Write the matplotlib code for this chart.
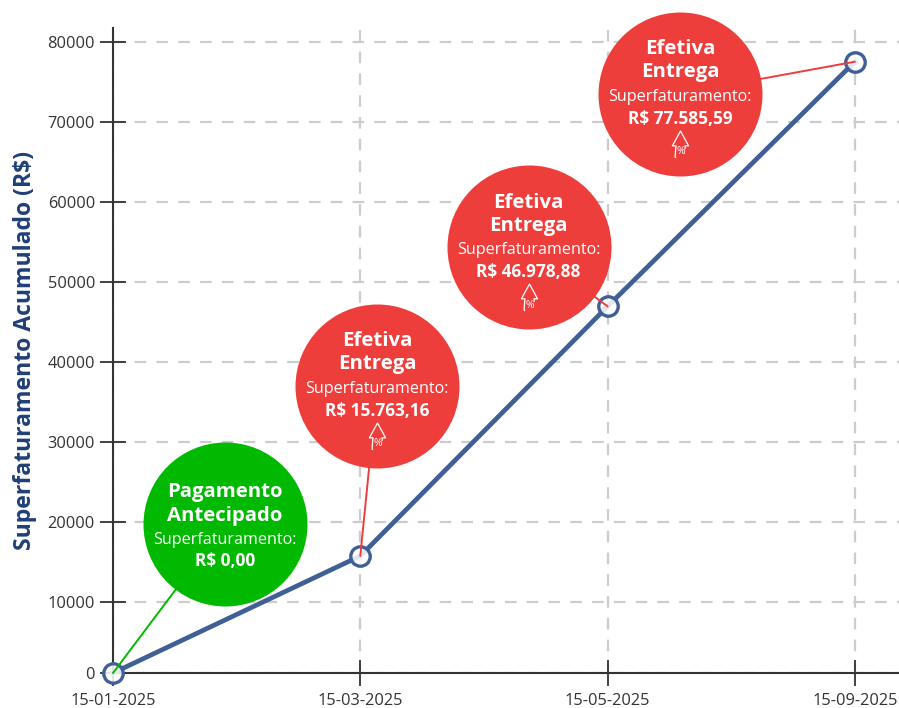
import numpy as np
import matplotlib
matplotlib.use('Agg')
import matplotlib.pyplot as plt
from matplotlib.path import Path
from matplotlib.transforms import ScaledTranslation

plt.rcParams['font.family'] = ['Open Sans', 'DejaVu Sans']

# data
dates = ['15-01-2025', '15-03-2025', '15-05-2025', '15-09-2025']
values = [0, 15763.16, 46978.88, 77585.59]
yticks = [0, 10000, 20000, 30000, 40000, 50000, 60000, 70000, 80000]
titles = ['Pagamento\nAntecipado', 'Efetiva\nEntrega', 'Efetiva\nEntrega', 'Efetiva\nEntrega']
amounts = ['R$ 0,00', 'R$ 15.763,16', 'R$ 46.978,88', 'R$ 77.585,59']

BLUE = '#3f5f95'
RED = '#ee3e3c'
GREEN = '#00b900'
DARK = '#333333'
GRID = '#cccccc'
colors = [GREEN, RED, RED, RED]
# bubble centres relative to their point, in pixels
offsets = [(112, 149), (17, 170), (-79, 59), (-175, -32)]

W, H = 899, 708
fig = plt.figure(figsize=(W / 100, H / 100), dpi=100)
ax = fig.add_axes([113 / W, 35 / H, 786 / W, 645 / H])

# the 0-10000 step is drawn shorter than the others in the original
def fwd(v):
    v = np.asarray(v, dtype=float)
    return np.where(v <= 10000, v * 71 / 10000, 71 + (v - 10000) * 80 / 10000)
def inv(p):
    p = np.asarray(p, dtype=float)
    return np.where(p <= 71, p * 10000 / 71, 10000 + (p - 71) * 10000 / 80)
ax.set_yscale('function', functions=(fwd, inv))

x = np.arange(len(dates))
ax.set_xlim(0, 786 / 247.3)
ax.set_ylim(0, 81800)
ax.set_xticks(x)
ax.set_xticklabels(dates)
ax.set_yticks(yticks)
ax.set_yticklabels([str(t) for t in yticks])
ax.minorticks_off()

ax.grid(True, color=GRID, lw=1.6, dashes=(5.2, 4.6), zorder=0)
ax.set_axisbelow(True)
for s in ['top', 'right']:
    ax.spines[s].set_visible(False)
for s in ['left', 'bottom']:
    ax.spines[s].set_color(DARK)
    ax.spines[s].set_linewidth(1.5)
ax.tick_params(axis='both', direction='inout', length=19, width=1.3, color=DARK,
               labelcolor='#333333', labelsize=11.8)
ax.tick_params(axis='x', pad=5)
ax.tick_params(axis='y', pad=3.5)

ax.plot(x, values, color=BLUE, lw=3.4, zorder=3, clip_on=False)
ax.plot(x, values, ls='none', marker='o', ms=14, mew=2.4, mec=BLUE,
        mfc=(1, 1, 1, 0.85), zorder=4, clip_on=False)

ax.set_ylabel('Superfaturamento Acumulado (R$)', color='#1f3f77', fontsize=16.6,
              fontweight='bold')
ax.yaxis.set_label_coords(-76 / 786, 0.50)

# small outlined arrow with a percent sign
arrow = Path([(-0.34, -1), (-0.4, -0.92), (-0.34, -0.1), (-0.6, -0.1), (0, 1), (0.6, -0.1), (0.34, -0.1), (0.34, -0.35)])

px = 72 / 100
for i in range(len(dates)):
    dx, dy = offsets[i]
    shift = ax.transData + ScaledTranslation(dx / 100, dy / 100, fig.dpi_scale_trans)
    ax.annotate('', xy=(x[i], values[i]), xytext=(dx * px, dy * px), textcoords='offset points',
                arrowprops=dict(arrowstyle='-', color=colors[i], lw=1.4, shrinkA=0, shrinkB=0),
                zorder=5, annotation_clip=False)
    ax.plot([x[i]], [values[i]], marker='o', ms=164 * px, color=colors[i], mew=0,
            transform=shift, zorder=6, clip_on=False)
    green = i == 0
    ax.annotate(titles[i], (x[i], values[i]), xytext=(dx * px, (dy + (20 if green else 33)) * px),
                textcoords='offset points', ha='center', va='center', color='white',
                fontsize=14.7, fontweight='bold', linespacing=1.2, zorder=7)
    ax.annotate('Superfaturamento:', (x[i], values[i]),
                xytext=(dx * px, (dy - (16 if green else 3)) * px), textcoords='offset points',
                ha='center', va='center', color='white', fontsize=11.6, zorder=7)
    ax.annotate(amounts[i], (x[i], values[i]), xytext=(dx * px, (dy - (37 if green else 25)) * px),
                textcoords='offset points', ha='center', va='center', color='white',
                fontsize=12.4, fontweight='bold', zorder=7)
    if not green:
        ashift = ax.transData + ScaledTranslation(dx / 100, (dy - 50) / 100, fig.dpi_scale_trans)
        ax.plot([x[i]], [values[i]], marker=arrow, ms=27 * px, mfc='none', mec='white', mew=0.9,
                transform=ashift, zorder=7, clip_on=False)
        ax.annotate('%', (x[i], values[i]), xytext=((dx + 1) * px, (dy - 58) * px),
                    textcoords='offset points', ha='center', va='center', color='white',
                    fontsize=7.5, zorder=8)

fig.savefig('out.png', dpi=100)
